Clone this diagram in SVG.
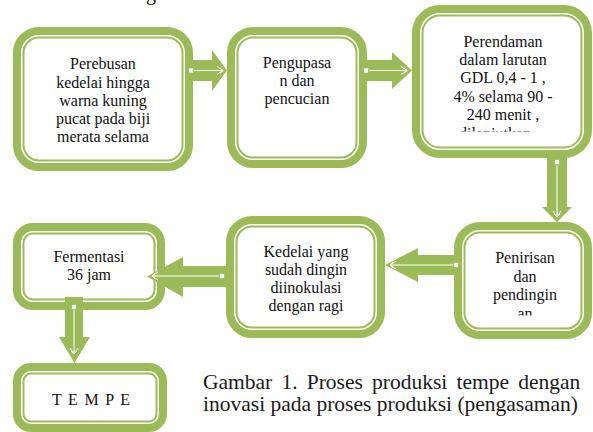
<svg xmlns="http://www.w3.org/2000/svg" width="593" height="432" viewBox="0 0 593 432">
<style>
.outer{fill:#fff;stroke:#9BBB59;stroke-width:8}
.inner{fill:#fff;stroke:#9BBB59;stroke-width:2}
.arr{fill:#9BBB59;stroke:none}
.ln{stroke:#fff;stroke-width:1;fill:none}
.t{font-family:"Liberation Serif",serif;font-size:16px;fill:#111;text-anchor:middle}
.cap{font-family:"Liberation Serif",serif;font-size:21.5px;fill:#1a1a1a}
</style>
<defs>
<marker id="sq" markerUnits="userSpaceOnUse" markerWidth="6" markerHeight="6" refX="3" refY="3" orient="auto">
<rect x="0.5" y="0.5" width="5" height="5" fill="#fff" stroke="#9BBB59" stroke-width="0.8"/>
</marker>
<marker id="tip" markerUnits="userSpaceOnUse" markerWidth="10" markerHeight="10" refX="8" refY="5" orient="auto">
<path d="M2,1 L8,5 L2,9 M5,2 L8,5 L5,8" fill="none" stroke="#fff" stroke-width="1"/>
</marker>
<clipPath id="c3"><rect x="420" y="120" width="170" height="11.5"/></clipPath>
<clipPath id="c5"><rect x="460" y="300" width="125" height="15.5"/></clipPath>
</defs>
<text class="t" x="146" y="0" style="font-size:20px;text-anchor:start">g</text>
<g id="n1">
<rect class="outer" x="17" y="31" width="172" height="136" rx="22"/>
<rect class="inner" x="23.5" y="37.5" width="159" height="123" rx="15.5"/>
<text class="t" x="103" y="69">Perebusan</text>
<text class="t" x="103" y="87.5">kedelai hingga</text>
<text class="t" x="103" y="106">warna kuning</text>
<text class="t" x="103" y="124">pucat pada biji</text>
<text class="t" x="103" y="142">merata selama</text>
</g>
<g id="n2">
<rect class="outer" x="231" y="31" width="132" height="133" rx="22"/>
<rect class="inner" x="237.5" y="37.5" width="119" height="120" rx="15.5"/>
<text class="t" x="297" y="68">Pengupasa</text>
<text class="t" x="297" y="86">n dan</text>
<text class="t" x="297" y="104">pencucian</text>
</g>
<g id="n3">
<rect class="outer" x="416" y="9" width="172" height="145" rx="24"/>
<rect class="inner" x="422.5" y="15.5" width="159" height="132" rx="17.5"/>
<text class="t" x="503" y="47">Perendaman</text>
<text class="t" x="503" y="65">dalam larutan</text>
<text class="t" x="503" y="83">GDL 0,4 - 1 ,</text>
<text class="t" x="503" y="102">4% selama 90 -</text>
<text class="t" x="503" y="120">240 menit ,</text>
<text class="t" x="495" y="139" clip-path="url(#c3)">dilanjutkan</text>
</g>
<g id="n4">
<rect class="outer" x="230" y="220" width="151" height="114" rx="22"/>
<rect class="inner" x="236.5" y="226.5" width="138" height="101" rx="15.5"/>
<text class="t" x="306" y="257">Kedelai yang</text>
<text class="t" x="306" y="275">sudah dingin</text>
<text class="t" x="306" y="293">diinokulasi</text>
<text class="t" x="306" y="311">dengan ragi</text>
</g>
<g id="n5">
<rect class="outer" x="458" y="226" width="130" height="109" rx="22"/>
<rect class="inner" x="464.5" y="232.5" width="117" height="96" rx="15.5"/>
<text class="t" x="525" y="263">Penirisan</text>
<text class="t" x="525" y="282">dan</text>
<text class="t" x="525" y="300">pendingin</text>
<text class="t" x="525" y="318.5" clip-path="url(#c5)">an</text>
</g>
<g id="n6">
<rect class="outer" x="17" y="227" width="144" height="79" rx="16"/>
<rect class="inner" x="23.5" y="233.5" width="131" height="66" rx="9.5"/>
<text class="t" x="89" y="262">Fermentasi</text>
<text class="t" x="89" y="280">36 jam</text>
</g>
<g id="n7">
<rect class="outer" x="17" y="367" width="146" height="61" rx="14"/>
<rect class="inner" x="23.5" y="373.5" width="133" height="48" rx="7.5"/>
<text class="t" x="91" y="405" textLength="78" lengthAdjust="spacing">T E M P E</text>
</g>
<g id="connectors">
<polygon class="arr" points="190,60 212,60 212,50 227,70.5 212,91 212,81 190,81"/>
<line class="ln" x1="191" y1="70.5" x2="223" y2="70.5" marker-start="url(#sq)" marker-end="url(#tip)"/>
<polygon class="arr" points="363,60 392,60 392,52 412,70.5 392,89 392,81 363,81"/>
<line class="ln" x1="366" y1="70.5" x2="407" y2="70.5" marker-start="url(#sq)" marker-end="url(#tip)"/>
<polygon class="arr" points="547,155 567,155 567,207 572,207 557,222 542,207 547,207"/>
<line class="ln" x1="557" y1="162" x2="557" y2="217" marker-start="url(#sq)" marker-end="url(#tip)"/>
<polygon class="arr" points="457,255 418,255 418,248 385,265 418,282 418,275 457,275"/>
<line class="ln" x1="456" y1="265" x2="390" y2="265" marker-start="url(#sq)" marker-end="url(#tip)"/>
<polygon class="arr" points="227,266 183,266 183,257 147,276.5 183,297 183,287 227,287"/>
<line class="ln" x1="222" y1="276" x2="152" y2="276" marker-start="url(#sq)" marker-end="url(#tip)"/>
<polygon class="arr" points="65,297 83,297 83,337 90,337 74.5,363 59,337 65,337"/>
<line class="ln" x1="74" y1="307" x2="74" y2="354" marker-start="url(#sq)" marker-end="url(#tip)"/>
</g>
<text class="cap" x="203" y="389" word-spacing="3.8">Gambar 1. Proses produksi tempe dengan</text>
<text class="cap" x="203" y="411">inovasi pada proses produksi (pengasaman)</text>
</svg>
